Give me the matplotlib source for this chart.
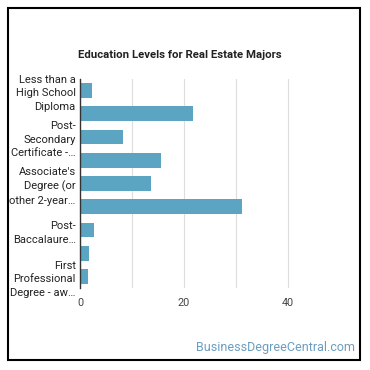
import matplotlib.pyplot as plt
from matplotlib.patches import Rectangle

plt.rcParams['font.family'] = ['Roboto', 'DejaVu Sans']

# Data
categories = [
    "Less than a High School Diploma",
    "High School Diploma",
    "Post-Secondary Certificate",
    "Some College Courses",
    "Associate's Degree (or other 2-year degree)",
    "Bachelor's Degree",
    "Post-Baccalaureate Certificate",
    "Master's Degree",
    "First Professional Degree",
]
values = [2.3, 21.7, 8.3, 15.6, 13.7, 31.2, 2.6, 1.8, 1.6]
tick_labels = [
    "Less than a\nHigh School\nDiploma",
    "",
    "Post-\nSecondary\nCertificate -\u2026",
    "",
    "Associate's\nDegree (or\nother 2-year\u2026",
    "",
    "Post-\nBaccalaure\u2026",
    "",
    "First\nProfessional\nDegree - aw\u2026",
]
xticks = [0, 20, 40]

fig = plt.figure(figsize=(3.7, 3.7), dpi=100)
ax = fig.add_axes([80/370, 82/370, 260/370, 209/370])

ypos = list(range(len(categories)))
ax.barh(ypos, values, height=0.64, color='#5BA4C2')
ax.set_ylim(len(categories) - 0.5, -0.5)
ax.set_xlim(0, 50)

ax.set_yticks(ypos)
ax.set_yticklabels(tick_labels, fontsize=8, color='#222222', linespacing=1.45)
ax.tick_params(axis='y', length=0, pad=3)
ax.set_xticks(xticks)
ax.tick_params(axis='x', length=0, labelsize=7.8, labelcolor='#444444', pad=7)

ax.set_xticks([10, 30], minor=True)
ax.tick_params(axis='x', which='minor', length=0)
ax.grid(axis='x', which='both', color='#dddddd', linewidth=0.8)
ax.set_axisbelow(True)
for s in ['top', 'right', 'bottom']:
    ax.spines[s].set_visible(False)
ax.spines['left'].set_color('#333333')
ax.spines['left'].set_linewidth(1.0)

fig.text(0.485, 315/370, "Education Levels for Real Estate Majors",
         ha='center', va='center', fontsize=8.2, fontweight='bold', color='#222222')

fig.text(355/370, 22/370, "BusinessDegreeCentral.com", ha='right', va='center',
         fontsize=9, color='#6A9EC0')

fig.patches.append(Rectangle((8/370, 10/370), 352/370, 352/370, transform=fig.transFigure,
                             fill=False, edgecolor='black', linewidth=1.5))

plt.savefig("out.png", dpi=100)
